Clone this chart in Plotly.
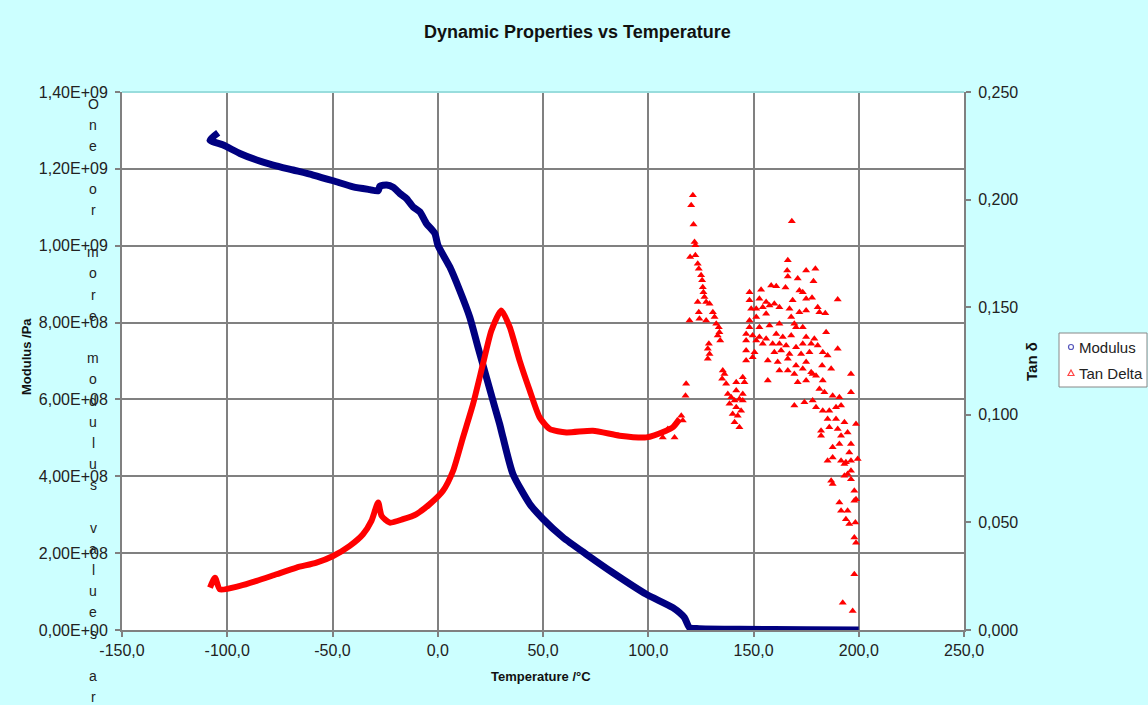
import plotly.graph_objects as go

# ---- axis ticks -------------------------------------------------------------
X_TICKS = [-150, -100, -50, 0, 50, 100, 150, 200, 250]
X_LABELS = ["-150,0", "-100,0", "-50,0", "0,0", "50,0", "100,0", "150,0", "200,0", "250,0"]
Y_TICKS = [0, 2e8, 4e8, 6e8, 8e8, 1.0e9, 1.2e9, 1.4e9]
Y_LABELS = ["0,00E+00", "2,00E+08", "4,00E+08", "6,00E+08", "8,00E+08",
            "1,00E+09", "1,20E+09", "1,40E+09"]
Y2_TICKS = [0, 0.05, 0.10, 0.15, 0.20, 0.25]
Y2_LABELS = ["0,000", "0,050", "0,100", "0,150", "0,200", "0,250"]

# ---- storage modulus (°C, GPa) ---------------------------------------------
MOD_T = [-104.3, -108.2, -101.9, -94.0, -86.0, -78.2, -68.7, -59.2, -49.7, -40.2,
         -32.3, -28.3, -27.5, -24.3, -21.2, -18.0, -14.9, -11.7, -8.5, -5.4,
         -1.4, 0.1, 5.7, 10.4, 15.2, 19.1, 23.1, 27.1, 29.4, 31.0, 35.7, 43.7,
         50.0, 59.5, 70.6, 83.2, 99.1, 111.7, 117.2, 119.6, 124.1, 143.3, 175.0, 200.0]
MOD_GPA = [1.294, 1.275, 1.262, 1.240, 1.223, 1.210, 1.197, 1.184, 1.169, 1.153,
           1.146, 1.143, 1.155, 1.158, 1.152, 1.136, 1.123, 1.101, 1.088, 1.058,
           1.032, 1.001, 0.945, 0.884, 0.814, 0.736, 0.658, 0.580, 0.536, 0.501, 0.406, 0.328,
           0.289, 0.241, 0.197, 0.149, 0.093, 0.058, 0.032, 0.006, 0.0034, 0.002, 0.0005, 0.0]

# ---- tan delta, continuous part ---------------------------------------------
TAN_T = [-108.2, -105.8, -103.5, -94.0, -86.0, -76.6, -67.1, -57.6, -49.7, -41.8,
         -35.5, -31.5, -28.3, -26.7, -22.8, -16.5, -10.1, -3.8, 2.5, 7.3,
         12.0, 16.8, 21.5, 25.5, 30.2, 34.2, 38.9, 43.7, 48.4, 53.2,
         61.1, 73.7, 86.4, 99.1, 108.5, 111.7, 114.9]
TAN_V = [0.0197, 0.0243, 0.0189, 0.0205, 0.0228, 0.0259, 0.0290, 0.0313, 0.0344, 0.0391,
         0.0445, 0.0507, 0.0593, 0.0531, 0.0499, 0.0515, 0.0539, 0.0585, 0.0647, 0.0740,
         0.0895, 0.1051, 0.1237, 0.1392, 0.1485, 0.1407, 0.1252, 0.1113, 0.0988, 0.0934,
         0.0918, 0.0926, 0.0903, 0.0895, 0.0926, 0.0942, 0.0981]

# ---- tan delta, noisy high-temperature readings -----------------------------
SCAT_T = [109.3, 106.9, 112.5, 116.4, 117.7, 118.0, 115.7,
          121.2, 120.4, 121.5, 122.0, 122.4, 119.9, 122.4, 123.5, 124.0, 125.1,
          125.6, 125.9, 126.2, 126.7, 127.5, 129.1, 123.5, 124.0, 119.6, 124.3,
          127.5, 130.7, 131.5, 132.3, 133.5, 133.8, 133.0, 134.2, 128.8, 128.3,
          129.1, 128.3,
          135.4, 136.2, 135.1, 137.0, 141.8, 144.9, 145.7, 137.8, 139.4, 141.0,
          143.3, 138.6, 141.8, 144.1, 140.1, 142.5, 141.0, 143.3, 141.8, 144.9, 144.9,
          168.2, 166.3, 166.0, 166.3, 175.0, 179.4, 171.0, 178.5,
          148.1, 153.6, 158.4, 160.8, 165.2, 171.8, 173.4,
          148.1, 152.8, 156.0, 159.9, 168.6, 175.0, 177.8, 190.0,
          148.9, 151.3, 154.4, 157.6, 162.3, 167.1, 171.8, 175.0, 180.5, 181.3, 184.1,
          148.1, 151.3, 156.0, 167.9, 169.4,
          148.1, 152.8, 157.6, 162.3, 170.2, 173.4, 184.5,
          146.5, 149.6, 152.8, 156.0, 160.8, 163.9, 167.9, 175.0, 178.9,
          146.5, 151.3, 154.4, 159.1, 162.3, 165.5, 170.2, 173.4, 177.4, 180.5, 190.0,
          146.5, 150.5, 159.9, 163.1, 167.1, 172.6, 176.6, 182.9, 185.2,
          146.5, 149.6, 156.8, 161.5, 166.3, 170.2, 175.0, 182.6, 186.9,
          162.3, 166.3, 169.4, 173.4, 177.4, 179.7,
          156.8, 171.0, 175.0, 178.1, 182.9, 196.3,
          181.3, 183.7, 187.6, 190.8, 196.3,
          169.4, 174.2, 178.1, 179.7, 182.9, 186.0, 189.2, 191.6,
          185.2, 189.2, 193.2, 198.7,
          182.1, 186.0, 190.0, 182.1, 191.6, 194.7,
          187.6, 190.8, 196.3,
          185.2, 187.6, 191.6, 193.2, 195.5, 193.9, 199.5, 196.3,
          186.9, 187.6, 193.2, 194.7, 196.3, 197.9, 196.3,
          190.8, 197.9, 198.7, 191.6, 194.7, 193.9, 195.5, 198.4,
          197.9, 198.7, 197.9, 192.4, 197.1]
SCAT_V = [0.0934, 0.0895, 0.0895, 0.0973, 0.1089, 0.1144, 0.0996,
          0.2020, 0.1974, 0.1884, 0.1803, 0.1788, 0.1733, 0.1741, 0.1702, 0.1679, 0.1648,
          0.1625, 0.1593, 0.1570, 0.1547, 0.1524, 0.1516, 0.1524, 0.1477, 0.1438, 0.1446,
          0.1438, 0.1477, 0.1454, 0.1423, 0.1407, 0.1384, 0.1369, 0.1345, 0.1330, 0.1307,
          0.1283, 0.1260,
          0.1206, 0.1190, 0.1167, 0.1144, 0.1151, 0.1175, 0.1151, 0.1097, 0.1081, 0.1066,
          0.1074, 0.1051, 0.1035, 0.1019, 0.1004, 0.0996, 0.0965, 0.0942, 0.1113, 0.1097, 0.1066,
          0.1899, 0.1718, 0.1671, 0.1643, 0.1671, 0.1679, 0.1633, 0.1621,
          0.1570, 0.1581, 0.1601, 0.1597, 0.1591, 0.1578, 0.1570,
          0.1532, 0.1539, 0.1524, 0.1516, 0.1532, 0.1539, 0.1544, 0.1536,
          0.1493, 0.1493, 0.1500, 0.1508, 0.1500, 0.1493, 0.1477, 0.1485, 0.1500, 0.1477, 0.1472,
          0.1438, 0.1454, 0.1470, 0.1454, 0.1423,
          0.1407, 0.1407, 0.1415, 0.1423, 0.1407, 0.1407, 0.1384,
          0.1376, 0.1369, 0.1361, 0.1353, 0.1376, 0.1361, 0.1369, 0.1361, 0.1353,
          0.1345, 0.1345, 0.1330, 0.1330, 0.1330, 0.1322, 0.1314, 0.1330, 0.1330, 0.1322, 0.1307,
          0.1299, 0.1291, 0.1291, 0.1299, 0.1283, 0.1283, 0.1291, 0.1291, 0.1276,
          0.1252, 0.1268, 0.1252, 0.1245, 0.1260, 0.1229, 0.1245, 0.1229, 0.1214,
          0.1206, 0.1206, 0.1190, 0.1214, 0.1198, 0.1182,
          0.1159, 0.1151, 0.1159, 0.1190, 0.1159, 0.1190,
          0.1120, 0.1105, 0.1089, 0.1081, 0.1105,
          0.1043, 0.1058, 0.1066, 0.1035, 0.1019, 0.1019, 0.1035, 0.1043,
          0.0981, 0.0981, 0.0965, 0.0957,
          0.0926, 0.0942, 0.0934, 0.0903, 0.0903, 0.0918,
          0.0849, 0.0864, 0.0864,
          0.0787, 0.0802, 0.0787, 0.0771, 0.0825, 0.0779, 0.0795, 0.0787,
          0.0694, 0.0678, 0.0717, 0.0725, 0.0701, 0.0647, 0.0740,
          0.0593, 0.0601, 0.0608, 0.0554, 0.0554, 0.0515, 0.0492, 0.0500,
          0.0430, 0.0406, 0.0259, 0.0127, 0.0088]

TITLE = "Dynamic Properties vs Temperature"
X_TITLE = "Temperature /°C"
Y_TITLE = "Modulus /Pa"
Y2_TITLE = "Tan δ"
NOTE = "One or more modulus values ar"
SERIES_NAMES = ["Modulus", "Tan Delta"]

# ---- page geometry ----------------------------------------------------------
W, H = 1148, 705
ML, MR, MT, MB = 122, 184, 92, 75
PW, PH = W - ML - MR, H - MT - MB


def fx(px):
    return (px - ML) / PW


def fy(py):
    return (H - MB - py) / PH


FONT = "Arial, 'Liberation Sans', sans-serif"
NAVY = "#000080"
RED = "#ff0000"
GRID = "#808080"
TICK_FONT = dict(family=FONT, size=16, color="#222222")

fig = go.Figure()

fig.add_trace(go.Scatter(
    x=MOD_T, y=[v * 1e9 for v in MOD_GPA], mode="lines", name=SERIES_NAMES[0],
    line=dict(color=NAVY, width=7, shape="spline", smoothing=0.6),
    showlegend=False, hoverinfo="skip"))

fig.add_trace(go.Scatter(
    x=TAN_T, y=TAN_V, mode="lines", yaxis="y2", name=SERIES_NAMES[1],
    line=dict(color=RED, width=6, shape="spline", smoothing=0.6),
    showlegend=False, hoverinfo="skip"))

fig.add_trace(go.Scatter(
    x=SCAT_T, y=SCAT_V, mode="markers", yaxis="y2", name=SERIES_NAMES[1],
    marker=dict(symbol="triangle-up", size=7, color=RED),
    showlegend=False, hoverinfo="skip"))

axis_common = dict(
    showline=True, linecolor=GRID, linewidth=2, ticks="outside", ticklen=5,
    tickcolor=GRID, tickwidth=1.5, zeroline=False, tickfont=TICK_FONT,
)

fig.update_layout(
    width=W, height=H,
    margin=dict(l=ML, r=MR, t=MT, b=MB),
    paper_bgcolor="#ccffff", plot_bgcolor="#ffffff",
    font=dict(family=FONT),
    showlegend=False,
    xaxis=dict(range=[-150, 250], tickvals=X_TICKS, ticktext=X_LABELS,
               showgrid=True, gridcolor=GRID, gridwidth=1.5, **axis_common),
    yaxis=dict(range=[0, 1.4e9], tickvals=Y_TICKS, ticktext=Y_LABELS,
               showgrid=True, gridcolor=GRID, gridwidth=1.5,
               ticklabelstandoff=4, **axis_common),
    yaxis2=dict(range=[0, 0.25], tickvals=Y2_TICKS, ticktext=Y2_LABELS,
                overlaying="y", side="right", showgrid=False,
                ticklabelstandoff=4, **axis_common),
)

shapes = [
    # top border of the plot area
    dict(type="line", xref="paper", yref="paper", x0=0, x1=1, y0=1, y1=1,
         line=dict(color="#99dddd", width=2)),
    # legend frame
    dict(type="rect", xref="paper", yref="paper",
         x0=fx(1059), x1=fx(1147), y0=fy(387), y1=fy(333),
         fillcolor="#ffffff", line=dict(color="#888888", width=1)),
    # legend key: small open circle
    dict(type="circle", xref="paper", yref="paper",
         xsizemode="pixel", ysizemode="pixel",
         xanchor=fx(1071), yanchor=fy(347), x0=-2.5, x1=2.5, y0=-2.5, y1=2.5,
         line=dict(color="#5555bb", width=1.2)),
    # legend key: small open triangle
    dict(type="path", xref="paper", yref="paper",
         xsizemode="pixel", ysizemode="pixel",
         xanchor=fx(1071), yanchor=fy(373),
         path="M -3,-2.5 L 3,-2.5 L 0,3 Z",
         line=dict(color="#ff4444", width=1.2)),
]
fig.update_layout(shapes=shapes)

ann = [
    dict(text="<b>" + TITLE + "</b>", x=fx(577), y=fy(32),
         font=dict(family=FONT, size=18, color="#111111")),
    dict(text="<b>" + X_TITLE + "</b>", x=fx(541), y=fy(677),
         font=dict(family=FONT, size=13, color="#111111")),
    dict(text="<b>" + Y_TITLE + "</b>", x=fx(26), y=fy(357), textangle=-90,
         font=dict(family=FONT, size=13, color="#111111")),
    dict(text="<b>" + Y2_TITLE + "</b>", x=fx(1031), y=fy(362), textangle=-90,
         font=dict(family=FONT, size=15, color="#111111")),
    dict(text=SERIES_NAMES[0], x=fx(1077), y=fy(347), xanchor="left",
         font=dict(family=FONT, size=15, color="#222222")),
    dict(text=SERIES_NAMES[1], x=fx(1077), y=fy(373), xanchor="left",
         font=dict(family=FONT, size=15, color="#222222")),
]
# vertically stacked note beside the modulus axis
for i, ch in enumerate(NOTE):
    if ch != " ":
        ann.append(dict(text=ch, x=fx(93), y=fy(104 + i * 21.18),
                        font=dict(family=FONT, size=14, color="#222222")))

for a in ann:
    a.setdefault("xanchor", "center")
    a.update(xref="paper", yref="paper", showarrow=False, yanchor="middle")
fig.update_layout(annotations=ann)

fig.write_html("out.html")
